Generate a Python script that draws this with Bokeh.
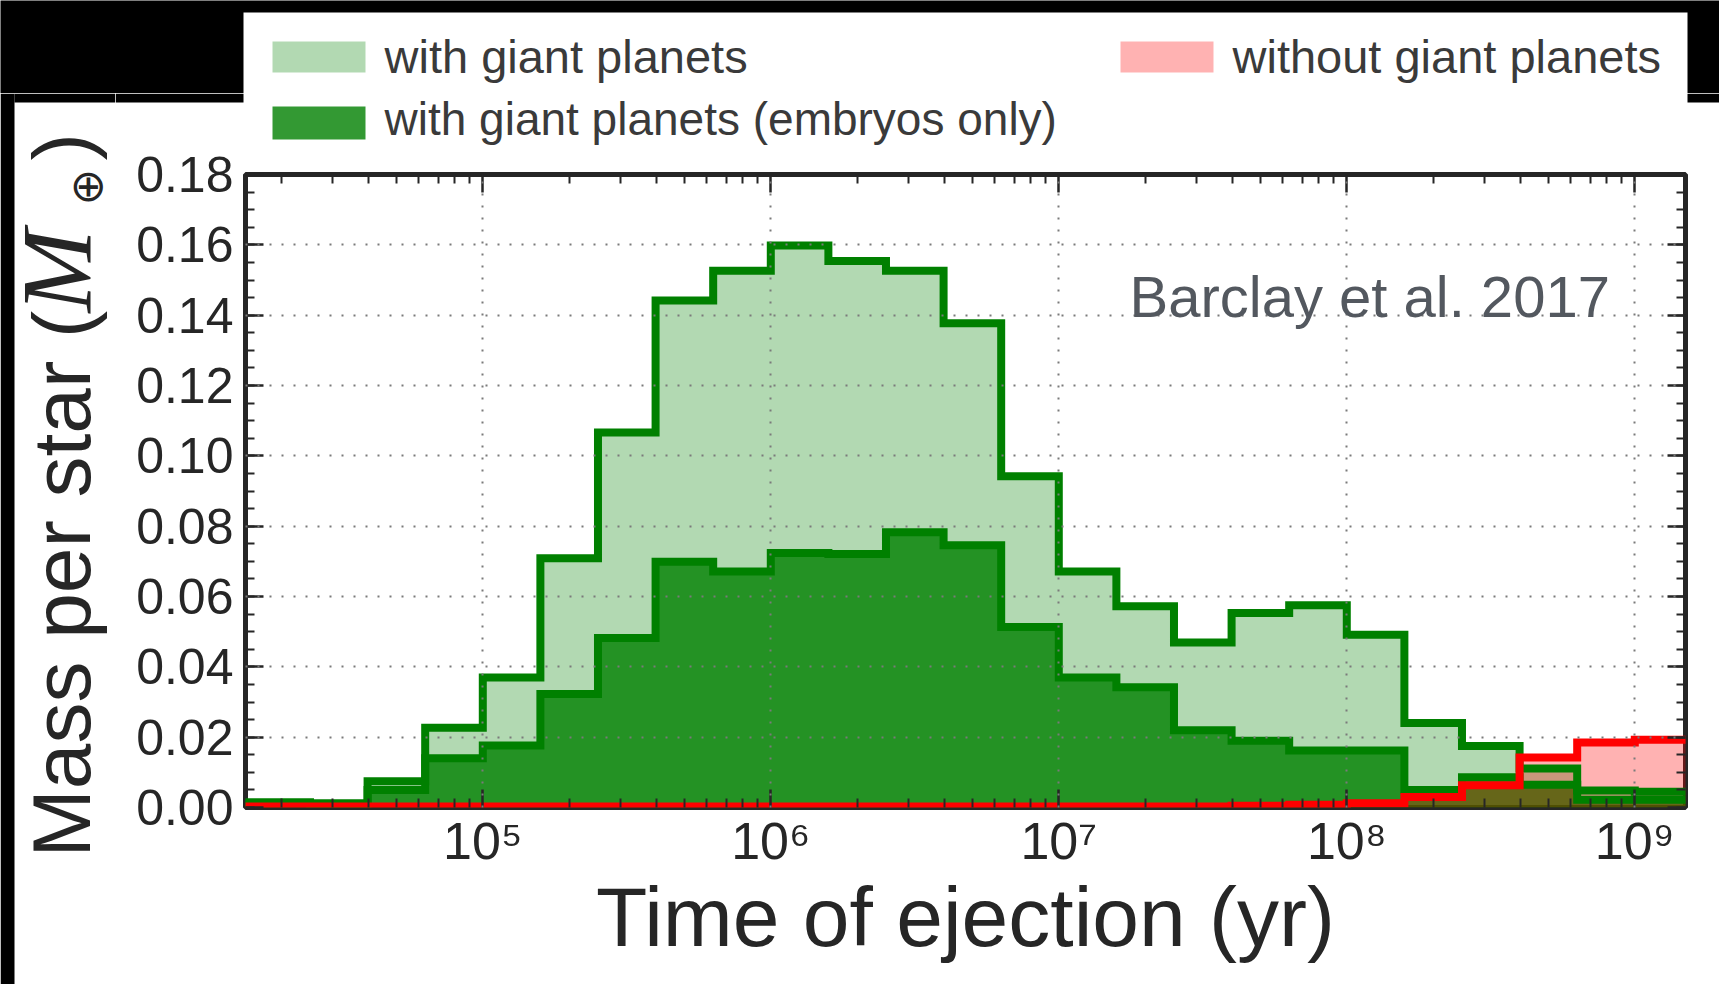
import numpy as np
from bokeh.plotting import figure
from bokeh.layouts import row, column
from bokeh.models import (Range1d, FixedTicker, NumeralTickFormatter, LinearAxis, LogAxis,
                          Label, CustomJSTickFormatter)
from bokeh.embed import file_html
from bokeh.resources import INLINE

# ---------------- data ----------------
bin_log_edges = [4.0, 4.2, 4.4, 4.6, 4.8, 5.0, 5.2, 5.4, 5.6, 5.8, 6.0, 6.2, 6.4,
                 6.6, 6.8, 7.0, 7.2, 7.4, 7.6, 7.8, 8.0, 8.2, 8.4, 8.6, 8.8, 9.0, 9.2]
with_giants = [0.0015, 0.0015, 0.0012, 0.0075, 0.0227, 0.0370, 0.0709, 0.1066, 0.1442,
               0.1526, 0.1598, 0.1554, 0.1526, 0.1377, 0.0942, 0.0671, 0.0572, 0.0469,
               0.0553, 0.0575, 0.0491, 0.0240, 0.0175, 0.0111, 0.0048, 0.0045]
embryos_only = [0.0012, 0.0012, 0.0010, 0.0050, 0.0140, 0.0176, 0.0323, 0.0482, 0.0699,
                0.0671, 0.0724, 0.0721, 0.0783, 0.0746, 0.0513, 0.0370, 0.0342, 0.0220,
                0.0190, 0.0162, 0.0162, 0.0050, 0.0086, 0.0065, 0.0022, 0.0022]
without_giants = [0.0003, 0.0003, 0.0003, 0.0003, 0.0003, 0.0003, 0.0003, 0.0003, 0.0003,
                  0.0003, 0.0003, 0.0003, 0.0003, 0.0003, 0.0003, 0.0003, 0.0003, 0.0003,
                  0.0005, 0.0008, 0.0012, 0.0030, 0.0063, 0.0142, 0.0185, 0.0193]
series_labels = ["with giant planets", "with giant planets (embryos only)", "without giant planets"]
y_ticks = [0.00, 0.02, 0.04, 0.06, 0.08, 0.10, 0.12, 0.14, 0.16, 0.18]
x_ticks = [1e5, 1e6, 1e7, 1e8, 1e9]
x_tick_labels = ["10\u2075", "10\u2076", "10\u2077", "10\u2078", "10\u2079"]
x_label = "Time of ejection (yr)"
y_label = "Mass per star ("
credit = "Barclay et al. 2017"

TXT = "#262626"
LEG_TXT = "#3a3a3a"
FONT = "Liberation Sans"


def no_align(f):
    try:
        f.frame_align = False
    except Exception:
        pass
    return f


def blank(w, h, color, xr=None, yr=None, **extra):
    kw = dict(width=w, height=h, toolbar_location=None, output_backend="svg",
              x_axis_type=None, y_axis_type=None, min_border=0, title=None,
              outline_line_color=None, background_fill_color=color, border_fill_color=color)
    kw.update(extra)
    if xr is not None:
        kw["x_range"] = Range1d(*xr)
        kw["y_range"] = Range1d(*yr)
    return no_align(figure(**kw))


def step_xy(edges, vals):
    xs, ys = [edges[0]], [0.0]
    for i, v in enumerate(vals):
        xs += [edges[i], edges[i + 1]]
        ys += [v, v]
    xs.append(edges[-1])
    ys.append(0.0)
    return xs, ys


edges = list(10.0 ** np.array(bin_log_edges))

# ---------------- main plot (window x 115..1719, y 145..984) ----------------
p = figure(width=1604, height=839, x_axis_type="log",
           x_range=Range1d(1.5e4, 1.5e9), y_range=Range1d(0, 0.18),
           toolbar_location=None, output_backend="svg", title=None,
           min_border_left=130, min_border_right=34, min_border_top=29, min_border_bottom=177,
           background_fill_color="white", border_fill_color="white",
           outline_line_color="#262626", outline_line_width=5)
no_align(p)

gx, gy = step_xy(edges, with_giants)
ex, ey = step_xy(edges, embryos_only)
rx, ry = step_xy(edges, without_giants)

p.patch(gx, gy, fill_color="green", fill_alpha=0.3, line_color=None)
p.patch(ex, ey, fill_color="green", fill_alpha=0.8, line_color=None)
p.patch(rx, ry, fill_color="red", fill_alpha=0.3, line_color=None)
p.line(gx, gy, line_color="#008000", line_width=8, line_join="miter")
p.line(ex, ey, line_color="#008000", line_width=8, line_join="miter")
p.line(rx, ry, line_color="#ff0000", line_width=8, line_join="miter")

x_minor = [k * 10.0 ** n for n in range(4, 10) for k in range(2, 10)]
y_minor = list(np.round(np.arange(0, 0.1801, 0.005), 4))
xt = FixedTicker(ticks=x_ticks, minor_ticks=x_minor)
yt = FixedTicker(ticks=y_ticks, minor_ticks=y_minor)

xb = p.xaxis[0]
yl = p.yaxis[0]
xtop = LogAxis()
yr = LinearAxis()
p.add_layout(xtop, "above")
p.add_layout(yr, "right")

for ax in (xb, xtop):
    ax.ticker = xt
for ax in (yl, yr):
    ax.ticker = yt
for ax in (xb, xtop, yl, yr):
    ax.axis_line_color = None
    ax.major_tick_in = 18
    ax.major_tick_out = 0
    ax.minor_tick_in = 9
    ax.minor_tick_out = 0
    ax.major_tick_line_color = TXT
    ax.major_tick_line_width = 2.5
    ax.minor_tick_line_color = TXT
    ax.minor_tick_line_width = 2
    ax.major_label_text_font = FONT
    ax.major_label_text_color = TXT
for ax in (xtop, yr):
    ax.formatter = CustomJSTickFormatter(code="return ''")
    ax.major_label_text_font_size = "1px"
    ax.major_label_standoff = 0

xb.major_label_overrides = {t: s for t, s in zip(x_ticks, x_tick_labels)}
xb.major_label_text_font_size = "52px"
xb.major_label_standoff = 4
xb.axis_label = x_label
xb.axis_label_text_font = FONT
xb.axis_label_text_font_size = "84px"
xb.axis_label_text_font_style = "normal"
xb.axis_label_text_color = TXT
xb.axis_label_standoff = -3

yl.formatter = NumeralTickFormatter(format="0.00")
yl.major_label_text_font_size = "50px"
yl.major_label_standoff = 12

for g in (p.xgrid[0], p.ygrid[0]):
    g.grid_line_color = "#7a7a7a"
    g.grid_line_dash = "2 10"
    g.grid_line_width = 2
    g.level = "annotation"
p.xgrid[0].ticker = xt
p.ygrid[0].ticker = yt

p.add_layout(Label(x=884, y=479, x_units="screen", y_units="screen", text=credit,
                   text_font=FONT, text_font_size="58px", text_color="#53585f",
                   text_baseline="bottom"))

# ---------------- top band with legend row 1 (window y 0..93) ----------------
top = blank(1719, 93, "black", xr=(0, 1719), yr=(93, 0))
top.quad(left=[243], right=[1687], top=[12], bottom=[93], fill_color="white", line_color=None)
top.quad(left=[272], right=[365], top=[41], bottom=[72], fill_color="green", fill_alpha=0.3, line_color=None)
top.quad(left=[1120], right=[1213], top=[41], bottom=[72], fill_color="red", fill_alpha=0.3, line_color=None)
top.add_layout(Label(x=384, y=11, x_units="screen", y_units="screen", text=series_labels[0],
                     text_font=FONT, text_font_size="47px", text_color=LEG_TXT,
                     text_baseline="bottom"))
top.add_layout(Label(x=1232, y=11, x_units="screen", y_units="screen", text=series_labels[2],
                     text_font=FONT, text_font_size="47px", text_color=LEG_TXT,
                     text_baseline="bottom"))

# ---------------- left column with y label (window x 0..115, y 93..984) ----------------
lc = blank(115, 891, "white", xr=(0, 115), yr=(984, 93))
lc.quad(left=[0, 14], right=[14, 115], top=[93, 93], bottom=[984, 102], fill_color="black", line_color=None)
for txt, x, y, font, size, style in [
        (y_label, 106, 127, FONT, "82px", "normal"),
        ("M", 111, 672, "Liberation Serif", "100px", "italic"),
        ("\u2295", 111, 779, "DejaVu Sans", "44px", "normal"),
        (")", 106, 824, FONT, "82px", "normal")]:
    lc.add_layout(Label(x=x, y=y, x_units="screen", y_units="screen", text=txt,
                        angle=np.pi / 2, text_font=font, text_font_size=size,
                        text_font_style=style, text_color=TXT,
                        text_align="left", text_baseline="bottom"))

# ---------------- legend row 2 (window x 115..1719, y 93..145) ----------------
leg2 = blank(1604, 52, "white", xr=(115, 1719), yr=(145, 93))
leg2.quad(left=[115, 1687], right=[243, 1719], top=[93, 93], bottom=[102, 102],
          fill_color="black", line_color=None)
leg2.quad(left=[272], right=[365], top=[106], bottom=[139], fill_color="green", fill_alpha=0.8, line_color=None)
leg2.add_layout(Label(x=269, y=0.5, x_units="screen", y_units="screen", text=series_labels[1],
                      text_font=FONT, text_font_size="46px", text_color=LEG_TXT,
                      text_baseline="bottom"))

layout = column(top, row(lc, column(leg2, p)))

open("out.html", "w").write(file_html(layout, INLINE))
